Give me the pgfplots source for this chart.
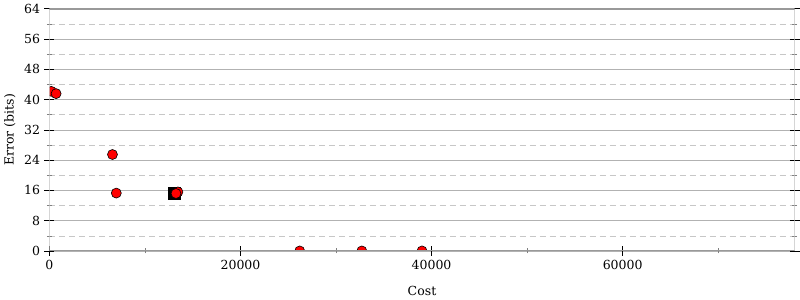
\documentclass[border=0pt]{standalone}
\usepackage{fontspec}
\setmainfont{DejaVu Serif}
\usepackage{pgfplots}
\pgfplotsset{compat=1.18}
\begin{document}
\fontsize{12.5bp}{15bp}\selectfont
\begin{tikzpicture}
\begin{axis}[
  scale only axis, width=745bp, height=242bp,
  xmin=0, xmax=78000, ymin=0, ymax=64,
  ytick={0,8,...,64}, minor ytick={4,12,...,60},
  xtick={0,20000,40000,60000}, minor xtick={10000,30000,50000,70000},
  scaled x ticks=false,
  /pgf/number format/assume math mode=true,
  xticklabel style={/pgf/number format/1000 sep={}},
  ticklabel style={font=\fontsize{12.5bp}{15bp}\selectfont},
  label style={font=\fontsize{12.5bp}{15bp}\selectfont},
  xtick pos=bottom, ytick pos=both,
  tick align=center,
  major tick length=10bp, minor tick length=5bp,
  major tick style={black, line width=0.8pt},
  minor tick style={gray, line width=0.6pt},
  ymajorgrids, yminorgrids,
  major grid style={solid, color=black!30, line width=0.6pt},
  minor grid style={dashed, color=black!22, line width=0.6pt, dash pattern=on 6bp off 4bp},
  axis line style={draw=none},
  xlabel={Cost}, ylabel={Error (bits)},
  xlabel style={yshift=-8bp},
  clip marker paths=true,
]
\addplot[only marks, mark=square*, mark size=6bp, mark options={fill=black, draw=black}] coordinates {(13100,15.3)};
\addplot[only marks, mark=*, mark size=5bp, mark options={fill=red, draw=black, line width=0.6pt}] coordinates {
(200,42.2) (700,41.6) (6600,25.5) (7000,15.3) (13450,15.6) (13250,15.2)
(26200,0) (32700,0) (39000,0)
};
\draw[black!40, line width=1.6pt] (rel axis cs:0,1) -- (rel axis cs:1,1);
\draw[black!25, line width=1.6pt] (rel axis cs:1,0) -- (rel axis cs:1,1);
\draw[black!25, line width=1.6pt] (rel axis cs:0,1) -- (rel axis cs:0,0);
\draw[black!40, line width=1.6pt] (rel axis cs:0,0) -- (rel axis cs:1,0);
\end{axis}
\end{tikzpicture}
\end{document}
